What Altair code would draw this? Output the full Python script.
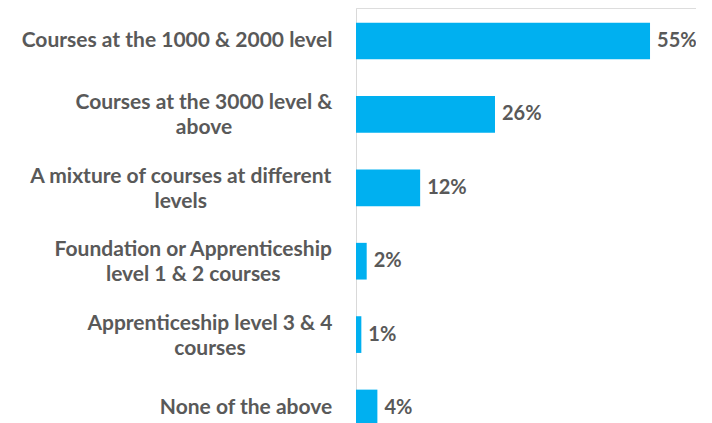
import glob
import os
import struct

import altair as alt
import pandas as pd

# ---- data -------------------------------------------------------------
categories = [
    "Courses at the 1000 & 2000 level",
    "Courses at the 3000 level & above",
    "A mixture of courses at different levels",
    "Foundation or Apprenticeship level 1 & 2 courses",
    "Apprenticeship level 3 & 4 courses",
    "None of the above",
]
label_lines = [
    ["Courses at the 1000 & 2000 level"],
    ["Courses at the 3000 level &", "above"],
    ["A mixture of courses at different", "levels"],
    ["Foundation or Apprenticeship", "level 1 & 2 courses"],
    ["Apprenticeship level 3 & 4", "courses"],
    ["None of the above"],
]
values = [55, 26, 12, 2, 1, 4]

# ---- style ------------------------------------------------------------
FONT = "Lato"
FONT_SIZE = 21
VALUE_SIZE = 20
LINE_HEIGHT = 25
TEXT_COLOR = "#595959"
BAR_COLOR = "#00B0F0"
LABEL_GAP = 23  # space between label block right edge and axis line


# ---- text measurement (to centre the lines of each label block) --------
def _find_font():
    for d in ["/usr/share/fonts", "/usr/local/share/fonts", os.path.expanduser("~/.fonts")]:
        hits = glob.glob(d + "/**/Lato-Bold.ttf", recursive=True)
        if hits:
            return hits[0]
    return None


def _make_measure(path):
    data = open(path, "rb").read()
    num_tables = struct.unpack(">H", data[4:6])[0]
    tables = {}
    for i in range(num_tables):
        tag, _cs, off, ln = struct.unpack(">4sIII", data[12 + 16 * i: 28 + 16 * i])
        tables[tag.decode("latin1")] = (off, ln)
    head = tables["head"][0]
    upem = struct.unpack(">H", data[head + 18: head + 20])[0]
    hhea = tables["hhea"][0]
    nhm = struct.unpack(">H", data[hhea + 34: hhea + 36])[0]
    hmtx = tables["hmtx"][0]
    adv = [struct.unpack(">H", data[hmtx + 4 * i: hmtx + 4 * i + 2])[0] for i in range(nhm)]
    cmap = tables["cmap"][0]
    n = struct.unpack(">H", data[cmap + 2: cmap + 4])[0]
    sub = None
    for i in range(n):
        pid, eid, off = struct.unpack(">HHI", data[cmap + 4 + 8 * i: cmap + 12 + 8 * i])
        fmt = struct.unpack(">H", data[cmap + off: cmap + off + 2])[0]
        if fmt == 4 and pid in (0, 3):
            sub = cmap + off
            break
    if sub is None:
        return None
    seg2 = struct.unpack(">H", data[sub + 6: sub + 8])[0]
    segs = seg2 // 2
    ends = struct.unpack(">%dH" % segs, data[sub + 14: sub + 14 + seg2])
    so = sub + 16 + seg2
    starts = struct.unpack(">%dH" % segs, data[so: so + seg2])
    do = so + seg2
    deltas = struct.unpack(">%dh" % segs, data[do: do + seg2])
    ro = do + seg2
    ros = struct.unpack(">%dH" % segs, data[ro: ro + seg2])

    def glyph(c):
        for i in range(segs):
            if ends[i] >= c:
                if starts[i] > c:
                    return 0
                if ros[i] == 0:
                    return (c + deltas[i]) & 0xFFFF
                addr = ro + 2 * i + ros[i] + 2 * (c - starts[i])
                g = struct.unpack(">H", data[addr: addr + 2])[0]
                return (g + deltas[i]) & 0xFFFF if g else 0
        return 0

    def measure(s, size):
        return sum(adv[min(glyph(ord(ch)), nhm - 1)] for ch in s) * size / upem

    return measure


_measure = None
try:
    _p = _find_font()
    if _p:
        _measure = _make_measure(_p)
except Exception:
    _measure = None
if _measure is None:
    def _measure(s, size):
        return len(s) * size * 0.52

# ---- tables -------------------------------------------------------------
bars = pd.DataFrame({"category": categories, "value": values})
bars["label"] = [f"{v}%" for v in values]

lab = pd.DataFrame({
    "category": categories,
    "text": ["\n".join(l) for l in label_lines],
    "nlines": [len(l) for l in label_lines],
})
lab["cx"] = [-(LABEL_GAP + max(_measure(s, FONT_SIZE) for s in l) / 2) for l in label_lines]

y_enc = alt.Y(
    "category:N",
    sort=categories,
    scale=alt.Scale(paddingInner=0.5, paddingOuter=0.2),
    axis=alt.Axis(
        title=None, labels=False, ticks=False, domain=True,
        domainColor="#D9D9D9", domainWidth=1, grid=False,
    ),
)
x_scale = alt.Scale(domain=[0, 63.6], nice=False, zero=True)

bar_layer = alt.Chart(bars).mark_bar(color=BAR_COLOR).encode(
    y=y_enc,
    x=alt.X("value:Q", scale=x_scale, axis=None),
)

value_layer = alt.Chart(bars).mark_text(
    align="left", baseline="middle", dx=7,
    font=FONT, fontSize=VALUE_SIZE, fontWeight="bold", color=TEXT_COLOR,
).encode(
    y=alt.Y("category:N", sort=categories),
    x=alt.X("value:Q", scale=x_scale),
    text="label:N",
)


def label_layer(n, dy):
    return alt.Chart(lab).transform_filter(alt.datum.nlines == n).mark_text(
        align="center", baseline="middle", lineBreak="\n", lineHeight=LINE_HEIGHT,
        dy=dy, font=FONT, fontSize=FONT_SIZE, fontWeight="bold", color=TEXT_COLOR,
    ).encode(
        y=alt.Y("category:N", sort=categories),
        x=alt.X("cx:Q", scale=None),
        text="text:N",
    )


chart = alt.layer(
    bar_layer, value_layer, label_layer(1, 0), label_layer(2, -11)
).properties(
    width=340,
    height=433,
    autosize=alt.AutoSizeParams(type="none"),
    padding={"left": 348, "top": 0, "right": 0, "bottom": 0},
).configure_view(stroke=None).configure(background="white")

chart.save("out.html", embed_options={"renderer": "svg", "actions": False})
